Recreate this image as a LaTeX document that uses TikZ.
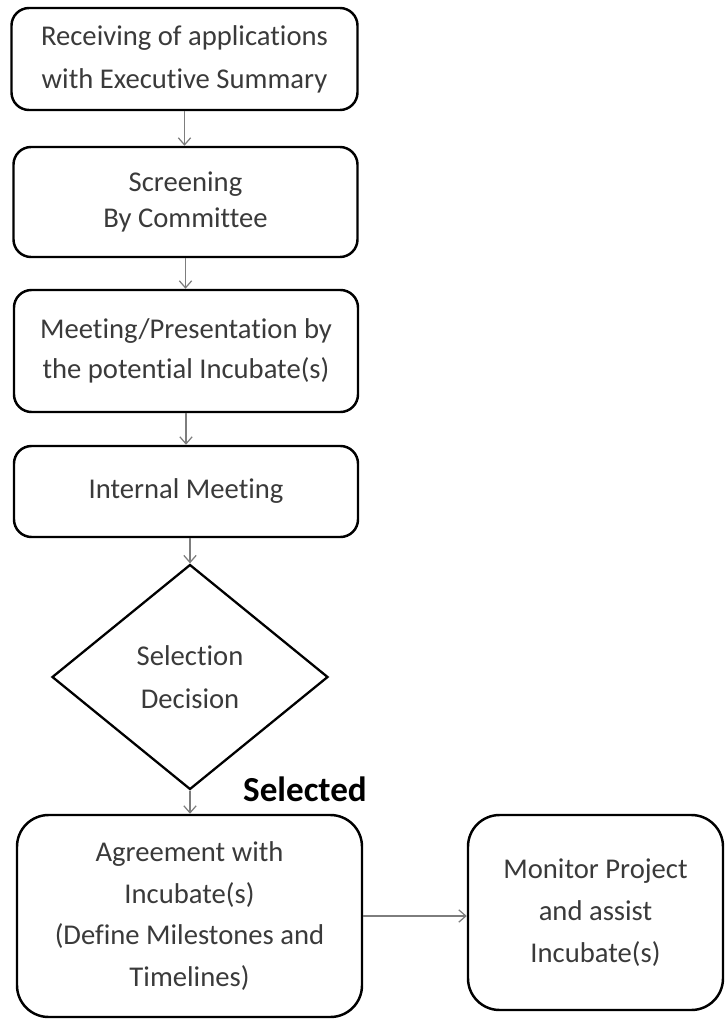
\documentclass[tikz,border=0pt]{standalone}
\usepackage{fontspec}
\setmainfont{Carlito}[Ligatures=NoCommon]
\usetikzlibrary{arrows.meta,shapes.geometric}
\definecolor{flowtext}{RGB}{58,58,58}
\definecolor{flowarrow}{RGB}{125,125,125}

\begin{document}
\begin{tikzpicture}[>={Straight Barb[length=4pt,width=7pt]},
  stepbox/.style={draw,line width=1.4pt,rounded corners=10pt,align=center,text=flowtext,inner sep=0pt},
  decbox/.style={draw,diamond,line width=1.3pt,align=center,text=flowtext,inner sep=0pt},
  flow/.style={->,flowarrow,line width=0.7pt}]
\useasboundingbox (0,0) rectangle (14.5,-20.38);
% main column
\node[stepbox,minimum width=6.92cm,minimum height=2.04cm,font=\fontsize{16.3}{24.4}\selectfont] (recv) at (3.69,-1.18) {Receiving of applications\\with Executive Summary};
\node[stepbox,minimum width=6.88cm,minimum height=2.2cm,font=\fontsize{16.3}{21}\selectfont] (screen) at (3.71,-4.04) {Screening\\By Committee};
\node[stepbox,minimum width=6.88cm,minimum height=2.44cm,font=\fontsize{16.3}{23}\selectfont] (present) at (3.72,-7.02) {Meeting/Presentation by\\the potential Incubate(s)};
\node[stepbox,minimum width=6.88cm,minimum height=1.82cm,font=\fontsize{16.3}{22}\selectfont] (internal) at (3.72,-9.83) {Internal Meeting};
\node[decbox,minimum width=5.52cm,minimum height=4.5cm,font=\fontsize{16.3}{24.4}\selectfont] (decide) at (3.8,-13.54) {Selection\\Decision};
\node[font=\fontsize{20}{24}\selectfont\bfseries] (selected) at (6.1,-15.78) {Selected};
\node[stepbox,rounded corners=18pt,minimum width=6.9cm,minimum height=4.04cm,font=\fontsize{16.3}{23.7}\selectfont] (agree) at (3.79,-18.32) {Agreement with\\Incubate(s)\\(Define Milestones and\\Timelines)};
% side box
\node[stepbox,rounded corners=18pt,minimum width=5.1cm,minimum height=3.9cm,font=\fontsize{16.3}{23.8}\selectfont] (monitor) at (11.91,-18.25) {Monitor Project\\and assist\\Incubate(s)};
\draw[flow] (recv.south) -- (recv.south |- screen.north);
\draw[flow] (screen.south) -- (screen.south |- present.north);
\draw[flow] (present.south) -- (present.south |- internal.north);
\draw[flow] (internal.south -| decide.north) -- (decide.north);
\draw[flow] (decide.south) -- (decide.south |- agree.north);
\draw[flow] (agree.east) -- (agree.east -| monitor.west);
\end{tikzpicture}
\end{document}
